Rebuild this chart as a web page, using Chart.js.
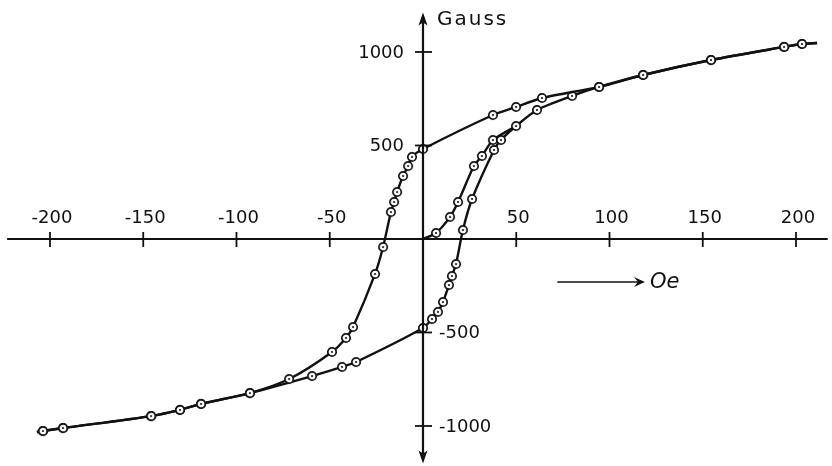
<!DOCTYPE html>
<html>
<head>
<meta charset="utf-8">
<script src="https://cdn.jsdelivr.net/npm/chart.js@4/dist/chart.umd.min.js"></script>
<style>
  body { margin: 0; background: #fff; }
  canvas { display: block; }
</style>
</head>
<body>
<canvas id="loop" width="832" height="466"></canvas>
<script>
// field strength H (Oe) and induction B (Gauss)
const descH = [211.3, 203.2, 193.6, 154.4, 118.0, 94.4, 63.8, 49.9, 37.5, 0, -5.9, -8.0, -10.7, -13.9, -15.5, -17.2, -21.4, -25.7, -37.5, -41.3, -48.8, -71.8, -92.8, -119.0, -130.3, -145.8, -193.0, -203.8, -207]
const descB = [1048, 1043, 1027, 957, 877, 813, 754, 706, 663, 481, 439, 390, 337, 251, 198, 144, -43, -187, -471, -529, -604, -749, -824, -882, -914, -947, -1011, -1027, -1032]

const ascH = [-207, -203.8, -193.0, -145.8, -130.3, -119.0, -92.8, -59.5, -43.4, -35.9, 0, 4.8, 8.0, 10.7, 13.9, 15.5, 17.7, 21.4, 26.3, 38.1, 41.8, 49.9, 61.1, 79.9, 94.4, 118.0, 154.4, 193.6, 203.2, 211.3]
const ascB = [-1032, -1027, -1011, -947, -914, -882, -824, -733, -684, -658, -476, -428, -390, -337, -246, -198, -134, 48, 214, 476, 529, 604, 690, 765, 813, 877, 957, 1027, 1043, 1048]

// initial magnetisation curve
const virH = [0, 7.0, 14.5, 18.8, 27.3, 31.6, 37.5, 49.9]
const virB = [0, 32, 118, 198, 390, 444, 529, 604]

const xTicks = [-200, -150, -100, -50, 50, 100, 150, 200]
const yTicks = [1000, 500, -500, -1000]

function toPoints(hs, bs) {
    return hs.map((h, i) => ({x: h, y: bs[i]}))
}

// little circle with a dot in the middle
function markerImage() {
    let c = document.createElement('canvas')
    c.width = 12
    c.height = 12
    let g = c.getContext('2d')
    g.fillStyle = '#fff'
    g.strokeStyle = '#111'
    g.lineWidth = 1.7
    g.beginPath()
    g.arc(6, 6, 4.2, 0, Math.PI * 2)
    g.fill()
    g.stroke()
    g.fillStyle = '#111'
    g.beginPath()
    g.arc(6, 6, 1.1, 0, Math.PI * 2)
    g.fill()
    return c
}

const marker = markerImage()

// no marker on the free ends of each curve
function endless(ctx) {
    let n = ctx.dataset.data.length
    return (ctx.dataIndex === 0 || ctx.dataIndex === n - 1) ? 0 : 5
}

function curve(data) {
    return {
        data: data,
        showLine: true,
        borderColor: '#111',
        borderWidth: 2.4,
        tension: 0.25,
        pointStyle: marker,
        pointRadius: endless,
        pointHoverRadius: endless
    }
}

const axesPlugin = {
    id: 'crossAxes',
    afterDatasetsDraw(chart) {
        const ctx = chart.ctx
        const x = chart.scales.x
        const y = chart.scales.y
        const x0 = x.getPixelForValue(0)
        const y0 = y.getPixelForValue(0)
        ctx.save()
        ctx.strokeStyle = '#111'
        ctx.fillStyle = '#111'
        ctx.lineWidth = 2.2

        // horizontal axis
        ctx.beginPath()
        ctx.moveTo(x.getPixelForValue(-223), y0)
        ctx.lineTo(x.getPixelForValue(217), y0)
        ctx.stroke()

        // vertical axis with arrows
        const top = y.getPixelForValue(1200)
        const bot = y.getPixelForValue(-1190)
        ctx.beginPath()
        ctx.moveTo(x0, top + 4)
        ctx.lineTo(x0, bot - 4)
        ctx.stroke()
        ctx.beginPath()
        ctx.moveTo(x0, top - 2)
        ctx.lineTo(x0 - 4.5, top + 11)
        ctx.lineTo(x0, top + 8)
        ctx.lineTo(x0 + 4.5, top + 11)
        ctx.closePath()
        ctx.fill()
        ctx.beginPath()
        ctx.moveTo(x0, bot + 2)
        ctx.lineTo(x0 - 4.5, bot - 11)
        ctx.lineTo(x0, bot - 8)
        ctx.lineTo(x0 + 4.5, bot - 11)
        ctx.closePath()
        ctx.fill()

        ctx.font = '18px "DejaVu Sans"'
        ctx.lineWidth = 1.8

        // x ticks and labels
        ctx.textAlign = 'center'
        ctx.textBaseline = 'middle'
        xTicks.forEach(v => {
            let px = x.getPixelForValue(v)
            ctx.beginPath()
            ctx.moveTo(px, y0 - 7)
            ctx.lineTo(px, y0 + 8)
            ctx.stroke()
            ctx.fillText(v < 0 ? '-' + Math.abs(v) : String(v), px + 2, y0 - 21)
        })

        // y ticks and labels
        yTicks.forEach(v => {
            let py = y.getPixelForValue(v)
            ctx.beginPath()
            ctx.moveTo(x0 - 8, py)
            ctx.lineTo(x0 + 9, py)
            ctx.stroke()
            if (v > 0) {
                ctx.textAlign = 'right'
                ctx.fillText(String(v), x0 - 19, py + 1)
            } else {
                ctx.textAlign = 'left'
                ctx.fillText('-' + Math.abs(v), x0 + 16, py + 1)
            }
        })

        // axis names
        ctx.textAlign = 'left'
        ctx.font = '20px "DejaVu Sans"'
        ctx.letterSpacing = '2px'
        ctx.fillText('Gauss', x0 + 14, y.getPixelForValue(1170))
        ctx.letterSpacing = '0px'

        const ay = y.getPixelForValue(-230)
        const ax1 = x.getPixelForValue(72)
        const ax2 = x.getPixelForValue(119)
        ctx.lineWidth = 1.3
        ctx.beginPath()
        ctx.moveTo(ax1, ay)
        ctx.lineTo(ax2 - 6, ay)
        ctx.stroke()
        ctx.beginPath()
        ctx.moveTo(ax2, ay)
        ctx.lineTo(ax2 - 11, ay - 5)
        ctx.lineTo(ax2 - 7, ay)
        ctx.lineTo(ax2 - 11, ay + 5)
        ctx.closePath()
        ctx.fill()
        ctx.font = 'italic 21px "DejaVu Sans"'
        ctx.fillText('Oe', ax2 + 5, ay + 1)
        ctx.restore()
    }
}

const config = {
    type: 'scatter',
    data: {
        datasets: [
            curve(toPoints(descH, descB)),
            curve(toPoints(ascH, ascB)),
            curve(toPoints(virH, virB))
        ]
    },
    options: {
        responsive: false,
        animation: false,
        layout: {padding: 0},
        plugins: {
            legend: {display: false},
            tooltip: {enabled: false}
        },
        scales: {
            x: {type: 'linear', min: -226.8, max: 219.3, display: false},
            y: {type: 'linear', min: -1214, max: 1278, display: false}
        }
    },
    plugins: [axesPlugin]
}

let ctx = document.getElementById('loop').getContext('2d')
new Chart(ctx, config)
</script>
</body>
</html>
